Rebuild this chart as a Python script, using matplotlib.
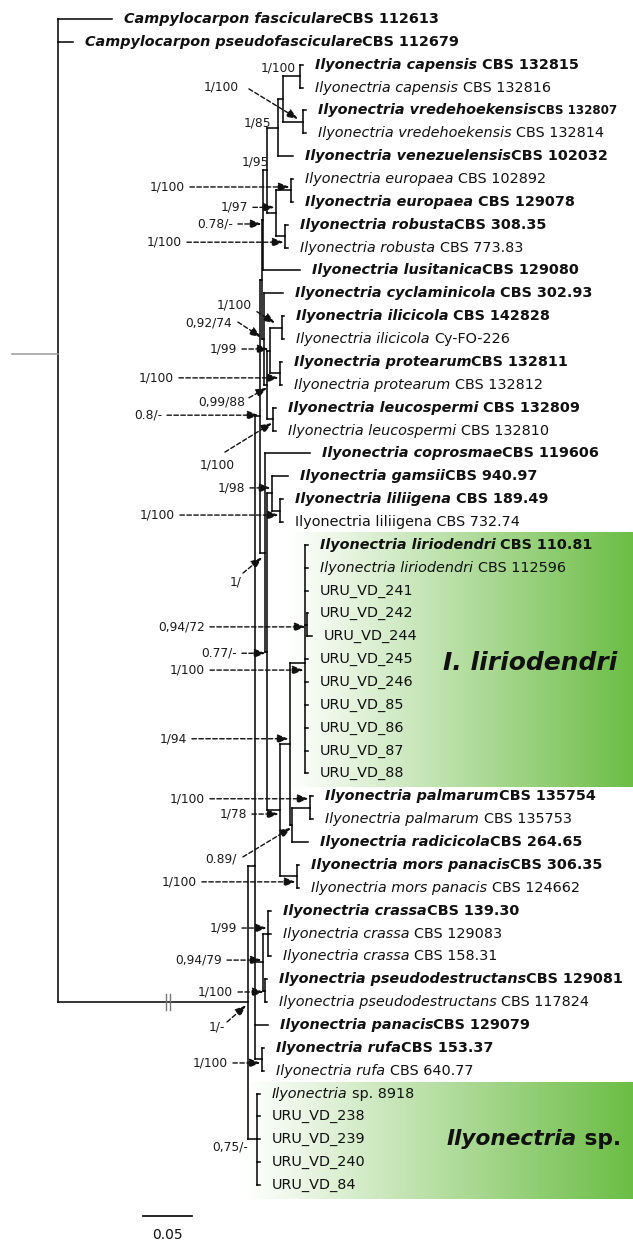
import numpy as np
import matplotlib
matplotlib.use("Agg")
import matplotlib.pyplot as plt
from matplotlib.collections import LineCollection
from matplotlib.colors import LinearSegmentedColormap

plt.rcParams['font.family'] = ['DejaVu Sans']

# ---------------------------------------------------------------- data
# internal node -> ordered children (tips are t01 ... t52, top to bottom)
CLADES = {
    'root': ['t01', 't02', 'C'],
    'C': ['U', 'SP'],
    'U': ['N8', 'CP', 't45', 'RUFA'],
    'N8': ['V', 'N1'],
    'V': ['W78', 'Z74'],
    'W78': ['X95', 't12'],
    'X95': ['A85', 'B97'],
    'A85': ['A100', 't07'],
    'A100': ['CAP', 'VRED'],
    'CAP': ['t03', 't04'],
    'VRED': ['t05', 't06'],
    'B97': ['EUR', 'ROB'],
    'EUR': ['t08', 't09'],
    'ROB': ['t10', 't11'],
    'Z74': ['t13', 'Z88'],
    'Z88': ['Z99', 'LEUC'],
    'Z99': ['ILI', 'PROT'],
    'ILI': ['t14', 't15'],
    'PROT': ['t16', 't17'],
    'LEUC': ['t18', 't19'],
    'N1': ['t20', 'N77'],
    'N77': ['GL', 'N78'],
    'GL': ['t21', 'LIL'],
    'LIL': ['t22', 't23'],
    'N78': ['N94', 'MORS'],
    'N94': ['LIR', 'N89'],
    'LIR': ['t24', 't25', 't26', 'S72', 't29', 't30', 't31', 't32', 't33', 't34'],
    'S72': ['t27', 't28'],
    'N89': ['PALM', 't37'],
    'PALM': ['t35', 't36'],
    'MORS': ['t38', 't39'],
    'CP': ['CRASSA', 'PSD'],
    'CRASSA': ['t40', 't41', 't42'],
    'PSD': ['t43', 't44'],
    'RUFA': ['t46', 't47'],
    'SP': ['t48', 't49', 't50', 't51', 't52'],
}

# branch lengths (substitutions per site); the C branch is shown truncated
BRANCH = {
    't01': 0.0551, 't02': 0.0153, 'C': 0.1939,
    'U': 0.0071, 'SP': 0.0092,
    'N8': 0.0051, 'CP': 0.0082, 't45': 0.0133, 'RUFA': 0.0071,
    'V': 0.0020, 'N1': 0.0051,
    'W78': 0.0010, 'Z74': 0.0020,
    'X95': 0.0041, 't12': 0.0378,
    'A85': 0.0112, 'B97': 0.0092,
    'A100': 0.0051, 't07': 0.0153,
    'CAP': 0.0173, 'VRED': 0.0204,
    't03': 0.0031, 't04': 0.0031, 't05': 0.0031, 't06': 0.0031,
    'EUR': 0.0153, 'ROB': 0.0092,
    't08': 0.0020, 't09': 0.0020, 't10': 0.0031, 't11': 0.0031,
    't13': 0.0194, 'Z88': 0.0031,
    'Z99': 0.0031, 'LEUC': 0.0061,
    'ILI': 0.0122, 'PROT': 0.0102,
    't14': 0.0020, 't15': 0.0020, 't16': 0.0020, 't17': 0.0020,
    't18': 0.0031, 't19': 0.0031,
    't20': 0.0459, 'N77': 0.0020,
    'GL': 0.0051, 'N78': 0.0133,
    't21': 0.0163, 'LIL': 0.0082, 't22': 0.0031, 't23': 0.0031,
    'N94': 0.0102, 'MORS': 0.0173,
    'LIR': 0.0153, 'N89': 0.0020,
    't24': 0.0031, 't25': 0.0031, 't26': 0.0031, 'S72': 0.0020,
    't27': 0.0010, 't28': 0.0051,
    't29': 0.0031, 't30': 0.0031, 't31': 0.0031, 't32': 0.0031,
    't33': 0.0031, 't34': 0.0031,
    'PALM': 0.0184, 't37': 0.0163, 't35': 0.0031, 't36': 0.0031,
    't38': 0.0020, 't39': 0.0020,
    'CRASSA': 0.0051, 'PSD': 0.0020,
    't40': 0.0031, 't41': 0.0031, 't42': 0.0031,
    't43': 0.0020, 't44': 0.0020,
    't46': 0.0020, 't47': 0.0020,
    't48': 0.0031, 't49': 0.0031, 't50': 0.0031, 't51': 0.0031, 't52': 0.0031,
}

# tip labels, top to bottom: italic part / upright part / bold
TIP_ITALIC = [
    'Campylocarpon fasciculare', 'Campylocarpon pseudofasciculare',
    'Ilyonectria capensis', 'Ilyonectria capensis',
    'Ilyonectria vredehoekensis', 'Ilyonectria vredehoekensis',
    'Ilyonectria venezuelensis',
    'Ilyonectria europaea', 'Ilyonectria europaea',
    'Ilyonectria robusta', 'Ilyonectria robusta',
    'Ilyonectria lusitanica', 'Ilyonectria cyclaminicola',
    'Ilyonectria ilicicola', 'Ilyonectria ilicicola',
    'Ilyonectria protearum', 'Ilyonectria protearum',
    'Ilyonectria leucospermi', 'Ilyonectria leucospermi',
    'Ilyonectria coprosmae', 'Ilyonectria gamsii',
    'Ilyonectria liliigena', '',
    'Ilyonectria liriodendri', 'Ilyonectria liriodendri',
    '', '', '', '', '', '', '', '', '',
    'Ilyonectria palmarum', 'Ilyonectria palmarum',
    'Ilyonectria radicicola',
    'Ilyonectria mors panacis', 'Ilyonectria mors panacis',
    'Ilyonectria crassa', 'Ilyonectria crassa', 'Ilyonectria crassa',
    'Ilyonectria pseudodestructans', 'Ilyonectria pseudodestructans',
    'Ilyonectria panacis',
    'Ilyonectria rufa', 'Ilyonectria rufa',
    'Ilyonectria', '', '', '', '',
]
TIP_ROMAN = [
    'CBS 112613', 'CBS 112679',
    ' CBS 132815', ' CBS 132816',
    'CBS 132807', ' CBS 132814',
    'CBS 102032',
    ' CBS 102892', ' CBS 129078',
    'CBS 308.35', ' CBS 773.83',
    'CBS 129080', ' CBS 302.93',
    ' CBS 142828', ' Cy-FO-226',
    'CBS 132811', ' CBS 132812',
    ' CBS 132809', ' CBS 132810',
    'CBS 119606', 'CBS 940.97',
    ' CBS 189.49', 'Ilyonectria liliigena CBS 732.74',
    ' CBS 110.81', ' CBS 112596',
    'URU_VD_241', 'URU_VD_242', 'URU_VD_244', 'URU_VD_245', 'URU_VD_246',
    'URU_VD_85', 'URU_VD_86', 'URU_VD_87', 'URU_VD_88',
    'CBS 135754', ' CBS 135753',
    'CBS 264.65',
    'CBS 306.35', ' CBS 124662',
    'CBS 139.30', ' CBS 129083', ' CBS 158.31',
    'CBS 129081', ' CBS 117824',
    'CBS 129079',
    'CBS 153.37', ' CBS 640.77',
    ' sp. 8918', 'URU_VD_238', 'URU_VD_239', 'URU_VD_240', 'URU_VD_84',
]
TIP_BOLD = [
    1, 1, 1, 0, 1, 0, 1, 0, 1, 1, 0, 1, 1, 1, 0, 1, 0, 1, 0, 1, 1, 1, 0,
    1, 0, 0, 0, 0, 0, 0, 0, 0, 0, 0,
    1, 0, 1, 1, 0, 1, 0, 0, 1, 0, 1, 1, 0,
    0, 0, 0, 0, 0,
]
SMALL_STRAIN = [4]  # tip whose strain text is set smaller

# node support (posterior probability / bootstrap)
SUPPORT = {
    'CAP': '1/100', 'VRED': '1/100', 'A85': '1/85', 'X95': '1/95',
    'EUR': '1/100', 'B97': '1/97', 'W78': '0.78/-', 'ROB': '1/100',
    'ILI': '1/100', 'Z74': '0,92/74', 'Z99': '1/99', 'PROT': '1/100',
    'Z88': '0,99/88', 'N8': '0.8/-', 'LEUC': '1/100', 'GL': '1/98',
    'LIL': '1/100', 'N1': '1/', 'S72': '0,94/72', 'N77': '0.77/-',
    'LIR': '1/100', 'N94': '1/94', 'PALM': '1/100', 'N78': '1/78',
    'N89': '0.89/', 'MORS': '1/100', 'CRASSA': '1/99', 'CP': '0,94/79',
    'PSD': '1/100', 'C': '1/-', 'RUFA': '1/100', 'SP': '0,75/-',
}

# highlighted clades and their captions (italic part, upright part)
HIGHLIGHT = [('LIR', 'I. liriodendri', ''), ('SP', 'Ilyonectria', ' sp.')]

SCALE_LEN = 0.05

# ---------------------------------------------------------------- layout
W_PX, H_PX = 633, 1242
PX_PER_UNIT = 980.0      # horizontal pixels per substitution/site
ROOT_PX = 58.0
TOP_PX = 19.0
ROW_PX = 22.863

# support label placement: node -> (text dx, text dy, arrow) in pixels
# arrow: None, 'h' (horizontal to node) or (start dx, start dy, end dx, end dy)
SUPPORT_POS = {
    'CAP': (-4, -8, None),
    'VRED': (-64, -35, (10, 2, -5, -3)),
    'A85': (-7, -5, None),
    'X95': (2, -8, None),
    'EUR': (-106, -3.5, 'h'),
    'B97': (-28, -6, 'h'),
    'W78': (-30, 3.5, 'h'),
    'ROB': (-103, 6, 'h'),
    'ILI': (-30, -23, (5, 7, -7, -4.6)),
    'Z74': (-32, -16, (6, -1, -3, -2)),
    'Z99': (-33, -1.5, 'h'),
    'PROT': (-106, 4.5, 'h'),
    'Z88': (-22, 17, (4, -4, 0, 3)),
    'N8': (-98, -1, 'h'),
    'LEUC': (-38, 46, (-10, -13, -1, 4)),
    'GL': (-27, -5.5, 'h'),
    'LIL': (-105, 4.5, 'h'),
    'N1': (-23, 29.5, (1, -9, -3, 5)),
    'S72': (-102, 2, 'h'),
    'N77': (-30, 1.5, 'h'),
    'LIR': (-100, 7.5, 'h'),
    'N94': (-103, -5, 'h'),
    'PALM': (-105, -9, 'h'),
    'N78': (-33, 4, 'h'),
    'N89': (-55, 34, (6, -2, -1, 3)),
    'MORS': (-100, 5.5, 'h'),
    'CRASSA': (-31, -5.5, 'h'),
    'CP': (-41, -2, 'h'),
    'PSD': (-32, 1.3, 'h'),
    'C': (-23, 24.5, (2, -5, -2, 3)),
    'RUFA': (-34, 3.7, 'h'),
    'SP': (-9, 8, None),
}
BOX_LEFT_PX = {'LIR': -15, 'SP': -10}
CAPTION_X_PX = {'LIR': 443, 'SP': 447}
CAPTION_FS = {'LIR': 18, 'SP': 15.6}

INK = '#111111'
GREEN = '#6cbd45'
TIP_FS = 10.4
SUP_FS = 8.8
TIP_GAP_PT = 8.6


def dx(px):
    return px / PX_PER_UNIT


def dy(px):
    return px / ROW_PX


# ---------------------------------------------------------------- tree layout
xs, ys, parent, order = {}, {}, {}, []


def place(node, x0):
    xs[node] = x0
    kids = CLADES.get(node)
    if not kids:
        ys[node] = float(len(order))
        order.append(node)
        return
    for k in kids:
        parent[k] = node
        place(k, x0 + BRANCH[k])
    ys[node] = float(np.mean([ys[k] for k in kids]))


def leaves_of(node):
    stack, out = [node], []
    while stack:
        n = stack.pop()
        if n in CLADES:
            stack.extend(CLADES[n])
        else:
            out.append(n)
    return out


place('root', 0.0)

fig = plt.figure(figsize=(W_PX / 100, H_PX / 100), dpi=100)
ax = fig.add_axes([0, 0, 1, 1])
ax.axis('off')

# highlighted clade backgrounds (white -> green)
cmap = LinearSegmentedColormap.from_list('fade', ['#ffffff', GREEN])
grad = np.linspace(0, 1, 256).reshape(1, -1)
x_right = (W_PX - ROOT_PX) / PX_PER_UNIT
for node, ital, rom in HIGHLIGHT:
    leaves = leaves_of(node)
    y_top = min(ys[t] for t in leaves) - 0.51
    y_bot = max(ys[t] for t in leaves) + 0.6
    x_left = xs[node] + dx(BOX_LEFT_PX[node])
    ax.imshow(grad, cmap=cmap, extent=(x_left, x_right, y_bot, y_top),
              aspect='auto', zorder=0, interpolation='bicubic')
    t = ax.text(dx(CAPTION_X_PX[node] - ROOT_PX), ys[node], ital,
                fontsize=CAPTION_FS[node], fontweight='bold',
                fontstyle='italic', va='center', ha='left', color=INK,
                zorder=3)
    if rom:
        ax.annotate(rom, xy=(1, 0.5), xycoords=t, va='center', ha='left',
                    fontsize=CAPTION_FS[node], fontweight='bold', color=INK,
                    zorder=3)

# branches
segs = []
for node in xs:
    if node in parent:
        segs.append([(xs[parent[node]], ys[node]), (xs[node], ys[node])])
    if node in CLADES:
        kids = CLADES[node]
        segs.append([(xs[node], ys[kids[0]]), (xs[node], ys[kids[-1]])])
ax.add_collection(LineCollection(segs, colors='black', linewidths=1.1,
                                 capstyle='projecting', zorder=2))

# root stub
ax.plot([xs['root'] - dx(46), xs['root']], [ys['root'], ys['root']],
        color='#9a9a9a', lw=1.1, zorder=2)

# break marks on the truncated ingroup branch
bx = xs['root'] + 0.57 * BRANCH['C']
for off in (0, 4):
    ax.plot([bx + dx(off), bx + dx(off)],
            [ys['C'] - dy(8), ys['C'] + dy(8)], color='#777777', lw=1.0,
            zorder=3)

# tip labels
for i, tip in enumerate(order):
    x, y = xs[tip], ys[tip]
    w = 'bold' if TIP_BOLD[i] else 'normal'
    ital, rom = TIP_ITALIC[i], TIP_ROMAN[i]
    first = None
    if ital:
        first = ax.annotate(ital, xy=(x, y), xytext=(TIP_GAP_PT, 0),
                            textcoords='offset points', ha='left', va='center',
                            fontsize=TIP_FS, fontstyle='italic', fontweight=w,
                            color=INK, zorder=4)
    if rom:
        lead = rom.startswith(' ')
        txt = rom.strip()
        fs = TIP_FS * 0.82 if i in SMALL_STRAIN else TIP_FS
        if first is None:
            ax.annotate(txt, xy=(x, y), xytext=(TIP_GAP_PT, 0),
                        textcoords='offset points', ha='left', va='center',
                        fontsize=fs, fontweight=w, color=INK, zorder=4)
        else:
            ax.annotate(txt, xy=(1, 0.5), xycoords=first,
                        xytext=(0.33 * TIP_FS if lead else 0, 0),
                        textcoords='offset points', ha='left', va='center',
                        fontsize=fs, fontweight=w, color=INK, zorder=4)

# support values with dashed pointers
arrow_kw = dict(arrowstyle='-|>,head_length=0.55,head_width=0.22',
                linestyle=(0, (3.2, 1.8)), lw=1.0, color='#111111',
                shrinkA=0, shrinkB=0, mutation_scale=12)
for node, label in SUPPORT.items():
    tdx, tdy, arrow = SUPPORT_POS[node]
    nx, ny = xs[node], ys[node]
    tx, ty = nx + dx(tdx), ny + dy(tdy)
    ax.text(tx, ty, label, fontsize=SUP_FS, ha='right', va='center',
            color='#1a1a1a', zorder=5)
    if arrow == 'h':
        ax.annotate('', xy=(nx - dx(1.5), ty), xytext=(tx + dx(5), ty),
                    arrowprops=arrow_kw, zorder=5)
    elif arrow is not None:
        sx, sy, ex, ey = arrow
        ax.annotate('', xy=(nx + dx(ex), ny + dy(ey)),
                    xytext=(tx + dx(sx), ty + dy(sy)),
                    arrowprops=arrow_kw, zorder=5)

# scale bar
sb_x0 = dx(143 - ROOT_PX)
sb_y = ys[order[-1]] + dy(31)
ax.plot([sb_x0, sb_x0 + SCALE_LEN], [sb_y, sb_y], color='black', lw=1.2)
ax.text(sb_x0 + SCALE_LEN / 2, sb_y + dy(19), f'{SCALE_LEN:g}', ha='center',
        va='center', fontsize=10, color=INK)

ax.set_xlim(-ROOT_PX / PX_PER_UNIT, (W_PX - ROOT_PX) / PX_PER_UNIT)
ax.set_ylim((H_PX - TOP_PX) / ROW_PX, -TOP_PX / ROW_PX)

fig.savefig('out.png', dpi=100, facecolor='white')
